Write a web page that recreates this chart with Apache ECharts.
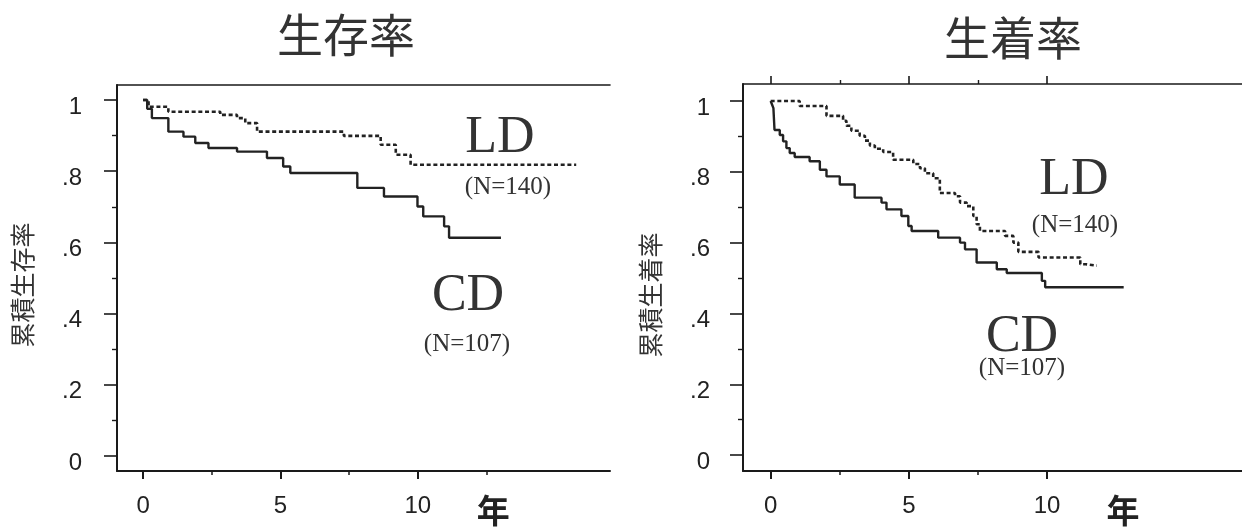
<!DOCTYPE html>
<html><head><meta charset="utf-8">
<script src="https://cdn.jsdelivr.net/npm/echarts@6/dist/echarts.min.js"></script>
<style>html,body{margin:0;padding:0;background:#fff}#c{width:1242px;height:527px}</style>
</head><body><div id="c"></div><script>
// ---- data (Kaplan-Meier estimates) ----
const titles = ['生存率', '生着率'];
const yNames = ['累積生存率', '累積生着率'];
const groupNames = ['LD', 'CD'];
const groupN = ['(N=140)', '(N=107)'];
const yearUnit = '年';

// survival (生存率)
const survCD_t = [0, 0.15, 0.32, 0.92, 1.47, 1.9, 2.38, 3.42, 4.51, 5.1, 5.36, 7.8, 8.77, 9.99, 10.2, 10.96, 11.14, 13.03];
const survCD_s = [1.0, 0.975, 0.949, 0.911, 0.897, 0.879, 0.865, 0.855, 0.837, 0.813, 0.795, 0.753, 0.729, 0.701, 0.673, 0.645, 0.613, 0.613];
const survLD_t = [0, 0.2, 0.92, 2.81, 3.42, 3.72, 4.15, 7.31, 8.65, 9.2, 9.74, 15.77];
const survLD_s = [1.0, 0.981, 0.967, 0.958, 0.949, 0.935, 0.911, 0.899, 0.874, 0.846, 0.818, 0.818];

// graft survival (生着率)
const graftCD_t = [0, 0.05, 0.1, 0.14, 0.33, 0.45, 0.57, 0.69, 0.87, 1.41, 1.78, 2.02, 2.5, 3.04, 4.01, 4.19, 4.73, 4.98, 5.1, 6.06, 6.85, 7.03, 7.45, 8.18, 8.54, 9.81, 9.93, 12.77];
const graftCD_s = [1.0, 0.99, 0.98, 0.918, 0.904, 0.886, 0.867, 0.853, 0.842, 0.830, 0.806, 0.787, 0.764, 0.727, 0.713, 0.694, 0.675, 0.647, 0.633, 0.614, 0.600, 0.581, 0.544, 0.525, 0.514, 0.492, 0.474, 0.474];
const graftLD_t = [0, 1.05, 2.02, 2.62, 2.74, 2.92, 3.22, 3.41, 3.59, 3.77, 4.07, 4.43, 5.16, 5.4, 5.58, 5.88, 6.12, 6.67, 6.85, 7.09, 7.33, 7.45, 7.57, 8.48, 8.78, 8.96, 9.69, 11.2, 11.4, 11.8];
const graftLD_s = [1.0, 0.986, 0.958, 0.944, 0.930, 0.916, 0.902, 0.888, 0.874, 0.865, 0.856, 0.834, 0.822, 0.81, 0.796, 0.782, 0.740, 0.731, 0.713, 0.703, 0.675, 0.652, 0.633, 0.619, 0.600, 0.574, 0.558, 0.539, 0.535, 0.535];

// ticks / labels
const xMajorTicks = [0, 5, 10];
const xMinorTicksL = [2.5, 7.5, 12.5];
const xMinorTicksR = [2.5, 7.5];
const xLabelValues = [0, 5, 10, 12.75];
const yMajorTicks = [0, 0.2, 0.4, 0.6, 0.8, 1];
const yMinorTicks = [0.1, 0.3, 0.5, 0.7, 0.9];

// ---- layout ----
const grids = [
  {left: 117, top: 85, width: 493, height: 387},
  {left: 743, top: 84, width: 499, height: 389}
];
const xRange = [[-0.95, 17.0], [-1.0, 17.05]];
const yRange = [[-0.042, 1.042], [-0.045, 1.048]];
const ink = '#1a1a1a';

function zip(t, s) { return t.map((v, i) => [v, s[i]]); }

const xAxis = [];
const yAxis = [];
const axIdx = [];
[0, 1].forEach(g => {
  const base = {gridIndex: g, type: 'value', min: xRange[g][0], max: xRange[g][1], splitLine: {show: false}};
  const major = xAxis.length;
  xAxis.push(Object.assign({}, base, {
    position: 'bottom',
    axisLine: {show: true, onZero: false, lineStyle: {color: ink, width: 2}},
    axisTick: {show: true, customValues: xMajorTicks, length: 8, lineStyle: {color: ink, width: 2}},
    axisLabel: {
      show: true, customValues: xLabelValues, margin: 23,
      fontSize: 24, fontFamily: 'Liberation Sans', color: '#222',
      formatter: v => (v > 11 ? '{u|' + yearUnit + '}' : String(v)),
      rich: {u: {fontSize: 33, fontFamily: 'Noto Sans CJK JP', fontWeight: 'bold', color: '#222'}}
    }
  }));
  xAxis.push(Object.assign({}, base, {
    position: 'bottom',
    axisLine: {show: false, onZero: false},
    axisTick: {show: true, customValues: g === 0 ? xMinorTicksL : xMinorTicksR, length: 4, lineStyle: {color: ink, width: 1.5}},
    axisLabel: {show: false}
  }));
  xAxis.push(Object.assign({}, base, {
    position: 'top',
    axisLine: {show: true, onZero: false, lineStyle: {color: ink, width: 1.6}},
    axisTick: g === 1 ? {show: true, customValues: xMajorTicks, length: 8, lineStyle: {color: ink, width: 1.6}} : {show: false},
    axisLabel: {show: false}
  }));
  if (g === 1) {
    xAxis.push(Object.assign({}, base, {
      position: 'top',
      axisLine: {show: false, onZero: false},
      axisTick: {show: true, customValues: xMinorTicksR, length: 4, lineStyle: {color: ink, width: 1.4}},
      axisLabel: {show: false}
    }));
  }
  const ybase = {gridIndex: g, type: 'value', min: yRange[g][0], max: yRange[g][1], position: 'left', splitLine: {show: false}};
  const ymajor = yAxis.length;
  yAxis.push(Object.assign({}, ybase, {
    axisLine: {show: true, onZero: false, lineStyle: {color: ink, width: 2}},
    axisTick: {show: true, customValues: yMajorTicks, length: 13, lineStyle: {color: ink, width: 1.6}},
    axisLabel: {
      show: true, customValues: yMajorTicks, margin: g === 0 ? 35 : 33,
      fontSize: 24, fontFamily: 'Liberation Sans', color: '#222',
      verticalAlign: 'top', lineHeight: 14,
      formatter: v => (v === 0 ? '0' : v === 1 ? '1' : String(v).replace(/^0/, ''))
    }
  }));
  yAxis.push(Object.assign({}, ybase, {
    axisLine: {show: false, onZero: false},
    axisTick: {show: true, customValues: yMinorTicks, length: 5, lineStyle: {color: ink, width: 1.4}},
    axisLabel: {show: false}
  }));
  axIdx.push({x: major, y: ymajor});
});

function kmSeries(name, g, data, dotted) {
  return {
    name: name, type: 'line', step: 'end', xAxisIndex: axIdx[g].x, yAxisIndex: axIdx[g].y,
    data: data, showSymbol: false, symbol: 'none', silent: true,
    lineStyle: dotted ? {color: '#222', width: 2.6, type: [4, 2.7]} : {color: '#222', width: 2.4, type: 'solid'}
  };
}

const series = [
  kmSeries('LD', 0, zip(survLD_t, survLD_s), true),
  kmSeries('CD', 0, zip(survCD_t, survCD_s), false),
  kmSeries('LD', 1, zip(graftLD_t, graftLD_s), true),
  kmSeries('CD', 1, zip(graftCD_t, graftCD_s), false)
];

function txt(text, x, y, font, extra) {
  return Object.assign({type: 'text', x: x, y: y, silent: true,
    style: {text: text, font: font, fill: '#333', align: 'center', verticalAlign: 'middle'}}, extra || {});
}
const serif = 'Liberation Serif';
const graphic = [
  txt(titles[0], 346, 35, '400 46px "Noto Sans CJK JP"'),
  txt(titles[1], 1013, 38, '400 46px "Noto Sans CJK JP"'),
  txt(yNames[0], 22, 285, '25px "Noto Sans CJK JP"', {rotation: Math.PI / 2}),
  txt(yNames[1], 650, 295, '25px "Noto Sans CJK JP"', {rotation: Math.PI / 2}),
  txt(groupNames[0], 500, 138, '52px "' + serif + '"'),
  txt(groupN[0], 508, 187, '25px "' + serif + '"'),
  txt(groupNames[1], 468, 296, '52px "' + serif + '"'),
  txt(groupN[1], 467, 344, '25px "' + serif + '"'),
  txt(groupNames[0], 1074, 180, '52px "' + serif + '"'),
  txt(groupN[0], 1075, 225, '25px "' + serif + '"'),
  txt(groupNames[1], 1022, 337, '52px "' + serif + '"'),
  txt(groupN[1], 1022, 368, '25px "' + serif + '"')
];

const chart = echarts.init(document.getElementById('c'), null, {renderer: 'canvas'});
chart.setOption({
  backgroundColor: '#fff',
  animation: false,
  grid: grids,
  xAxis: xAxis,
  yAxis: yAxis,
  series: series,
  graphic: graphic
});
</script></body></html>
